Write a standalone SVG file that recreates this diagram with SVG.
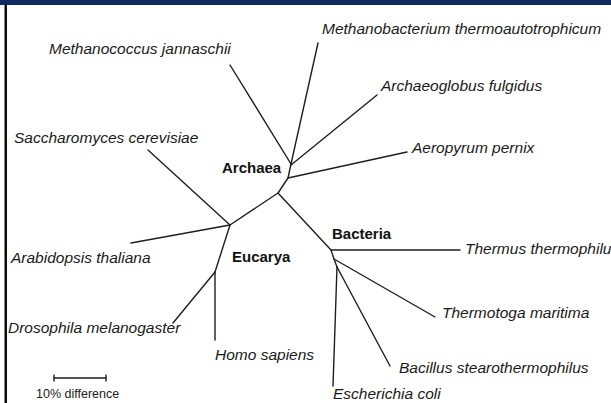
<svg xmlns="http://www.w3.org/2000/svg" width="611" height="403" viewBox="0 0 611 403">
<style>
.sp{font-family:"Liberation Sans",Arial,sans-serif;font-style:italic;font-size:15.5px;fill:#1a1a1a}
.dm{font-family:"Liberation Sans",Arial,sans-serif;font-weight:bold;font-size:15px;fill:#111}
.sc{font-family:"Liberation Sans",Arial,sans-serif;font-size:12.5px;fill:#1a1a1a}
.br{stroke:#1e1e1e;stroke-width:1.4;fill:none;stroke-linecap:round;stroke-linejoin:round}
</style>
<rect x="0" y="0" width="611" height="403" fill="#ffffff"/>
<rect x="0" y="0" width="611" height="5" fill="#112a62"/>
<rect x="4.5" y="5" width="2.5" height="398" fill="#0a0a0a"/>
<g id="connectors">
<polyline class="br" points="230,225 278,193 288,178 291,164"/>
<line class="br" x1="291" y1="164" x2="230" y2="65"/>
<line class="br" x1="291" y1="164" x2="318" y2="43"/>
<line class="br" x1="291" y1="165" x2="377" y2="95"/>
<line class="br" x1="288" y1="178" x2="407" y2="152"/>
<polyline class="br" points="278,193 331,250 334,259 337,267"/>
<line class="br" x1="331" y1="250" x2="460" y2="250"/>
<line class="br" x1="334" y1="259" x2="435" y2="317"/>
<line class="br" x1="337" y1="267" x2="390" y2="366"/>
<line class="br" x1="337" y1="267" x2="333" y2="386"/>
<line class="br" x1="230" y1="225" x2="148" y2="150"/>
<line class="br" x1="230" y1="225" x2="131" y2="243"/>
<line class="br" x1="230" y1="225" x2="215" y2="272"/>
<line class="br" x1="215" y1="272" x2="173" y2="323"/>
<line class="br" x1="215" y1="272" x2="215" y2="340"/>
</g>
<g id="scalebar">
<line class="br" x1="54" y1="378" x2="106" y2="378"/>
<line class="br" x1="54" y1="375" x2="54" y2="381"/>
<line class="br" x1="106" y1="375" x2="106" y2="381"/>
<text class="sc" x="36" y="398">10% difference</text>
</g>
<g id="archaea"><text class="dm" x="222" y="173">Archaea</text></g>
<g id="bacteria"><text class="dm" x="332" y="239">Bacteria</text></g>
<g id="eucarya"><text class="dm" x="232" y="262">Eucarya</text></g>
<g id="methanococcus"><text class="sp" x="49" y="54">Methanococcus jannaschii</text></g>
<g id="methanobacterium"><text class="sp" x="322" y="34">Methanobacterium thermoautotrophicum</text></g>
<g id="archaeoglobus"><text class="sp" x="381" y="91">Archaeoglobus fulgidus</text></g>
<g id="aeropyrum"><text class="sp" x="412" y="152.5">Aeropyrum pernix</text></g>
<g id="saccharomyces"><text class="sp" x="14" y="142.5">Saccharomyces cerevisiae</text></g>
<g id="arabidopsis"><text class="sp" x="11" y="263">Arabidopsis thaliana</text></g>
<g id="drosophila"><text class="sp" x="8" y="333">Drosophila melanogaster</text></g>
<g id="homo"><text class="sp" x="215" y="360">Homo sapiens</text></g>
<g id="thermus"><text class="sp" x="465" y="254">Thermus thermophilu</text></g>
<g id="thermotoga"><text class="sp" x="442" y="318">Thermotoga maritima</text></g>
<g id="bacillus"><text class="sp" x="399" y="373">Bacillus stearothermophilus</text></g>
<g id="escherichia"><text class="sp" x="333" y="399">Escherichia coli</text></g>
</svg>
